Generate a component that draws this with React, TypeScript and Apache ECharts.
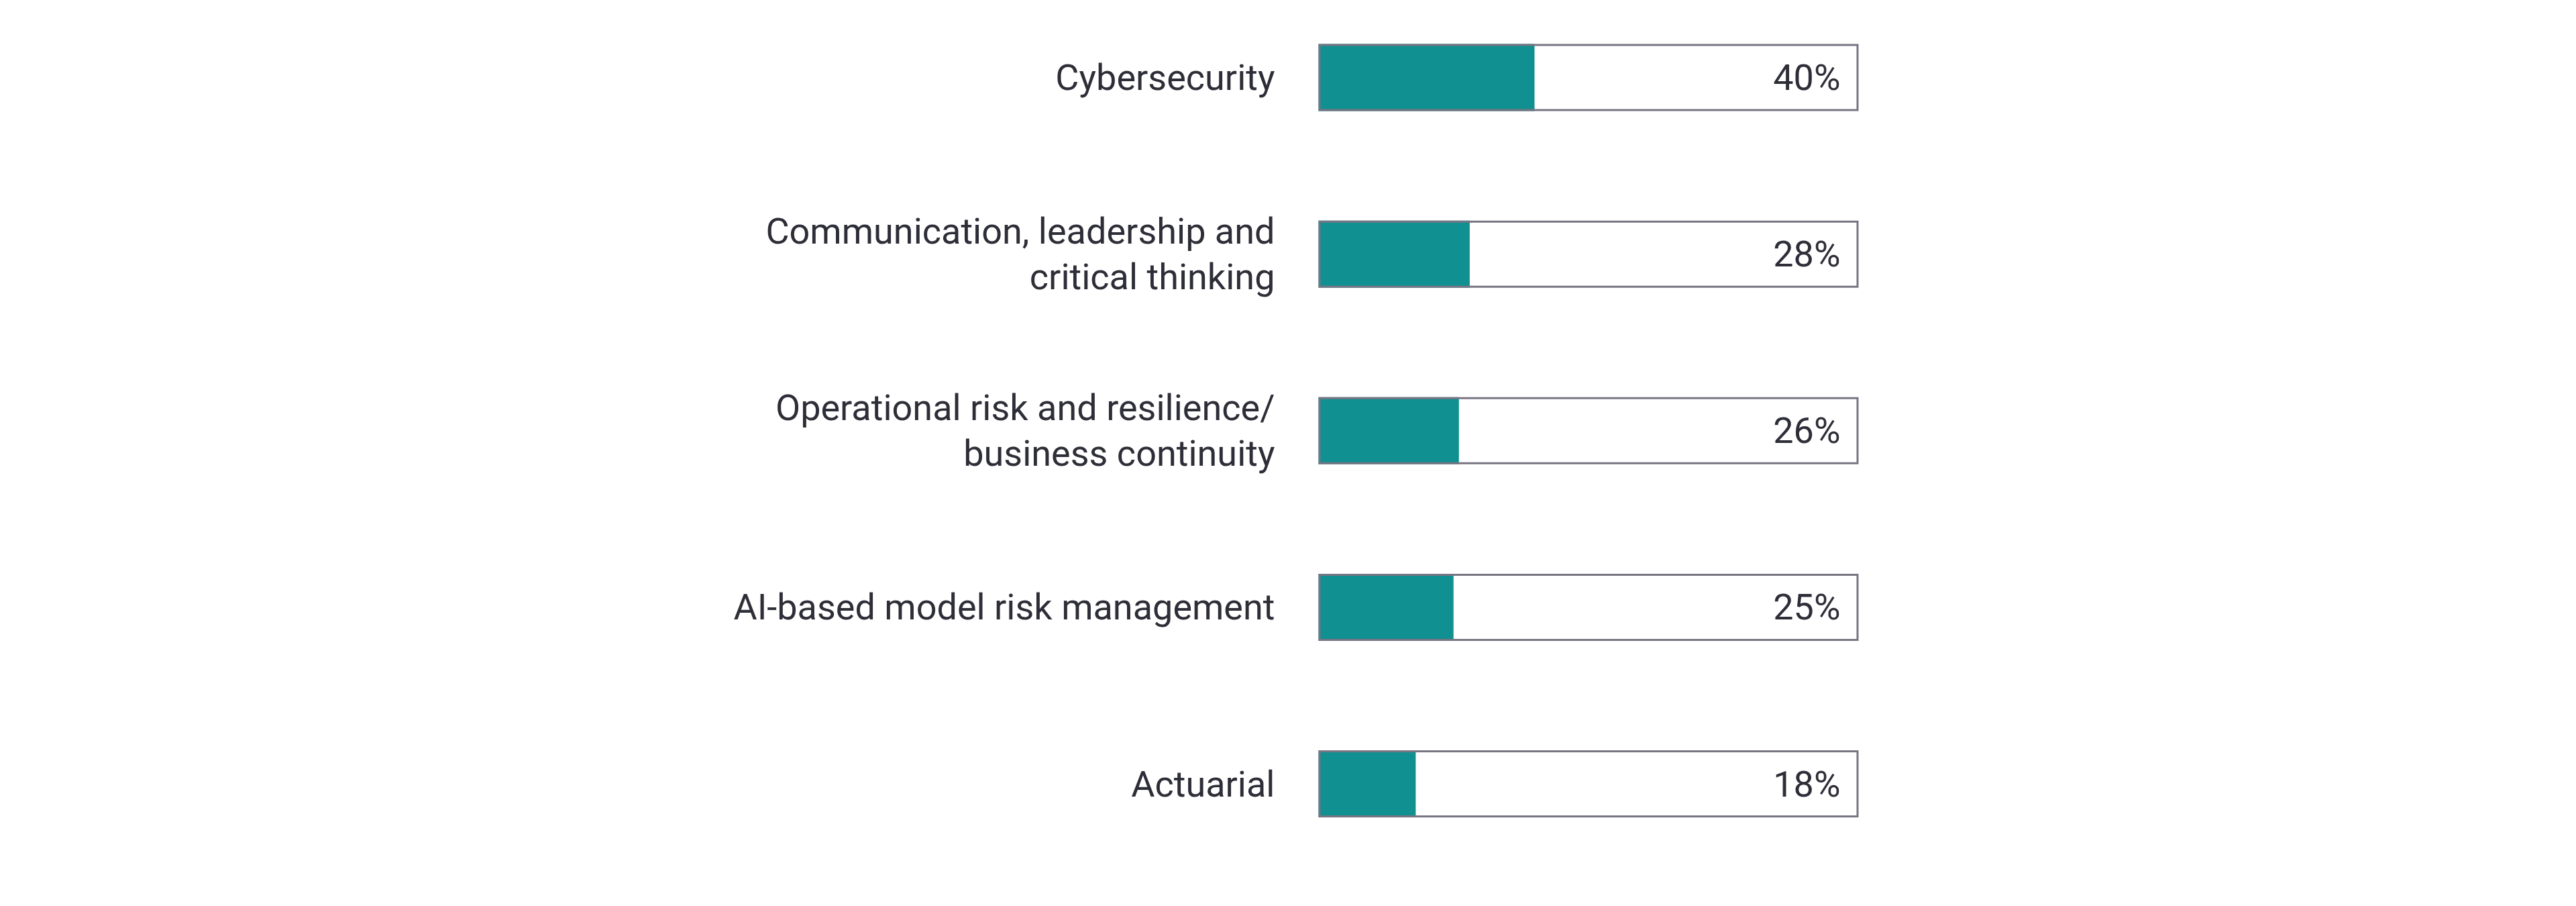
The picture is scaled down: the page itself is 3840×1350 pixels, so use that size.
import React, { useEffect, useRef } from "react";
import * as echarts from "echarts";

const categories: string[] = [
  "Cybersecurity",
  "Communication, leadership and\ncritical thinking",
  "Operational risk and resilience/\nbusiness continuity",
  "AI-based model risk management",
  "Actuarial",
];
const values: number[] = [40, 28, 26, 25, 18];
const scaleMax = 100;

const TEXT = "#2e2e38";
const TEAL = "#109090";
const FRAME = "#787583";

export default function App() {
  const ref = useRef<HTMLDivElement>(null);
  useEffect(() => {
    document.body.style.margin = "0";
    document.body.style.overflow = "hidden";
    const chart = echarts.init(ref.current!, null, { renderer: "svg" });
    chart.setOption({
      animation: false,
      backgroundColor: "#ffffff",
      grid: { left: 1965.5, width: 805, top: 0, height: 1315.6 },
      xAxis: {
        type: "value",
        min: 0,
        max: scaleMax,
        show: false,
      },
      yAxis: {
        type: "category",
        inverse: true,
        data: categories,
        axisLine: { show: false },
        axisTick: { show: false },
        splitLine: { show: false },
        axisLabel: {
          margin: 65,
          fontFamily: "Roboto",
          fontSize: 54,
          fontWeight: 400,
          color: TEXT,
          lineHeight: 68,
          align: "right",
          padding: [8, 0, 0, 0],
        },
      },
      series: [
        {
          type: "bar",
          data: values,
          barWidth: 100,
          barGap: "-100%",
          itemStyle: { color: TEAL },
          silent: true,
        },
        {
          type: "bar",
          data: values.map(() => scaleMax),
          barWidth: 100,
          barGap: "-100%",
          itemStyle: { color: "transparent", borderColor: FRAME, borderWidth: 3 },
          label: {
            show: true,
            position: "insideRight",
            distance: 27,
            fontFamily: "Roboto",
            fontSize: 54,
            fontWeight: 400,
            color: TEXT,
            padding: [6, 0, 0, 0],
            formatter: (p: any) => values[p.dataIndex] + "%",
          },
          silent: true,
        },
      ],
    });
    return () => chart.dispose();
  }, []);
  return (
    <div
      ref={ref}
      style={{ width: 3840, height: 1366, marginTop: -16, position: "relative" }}
    />
  );
}
